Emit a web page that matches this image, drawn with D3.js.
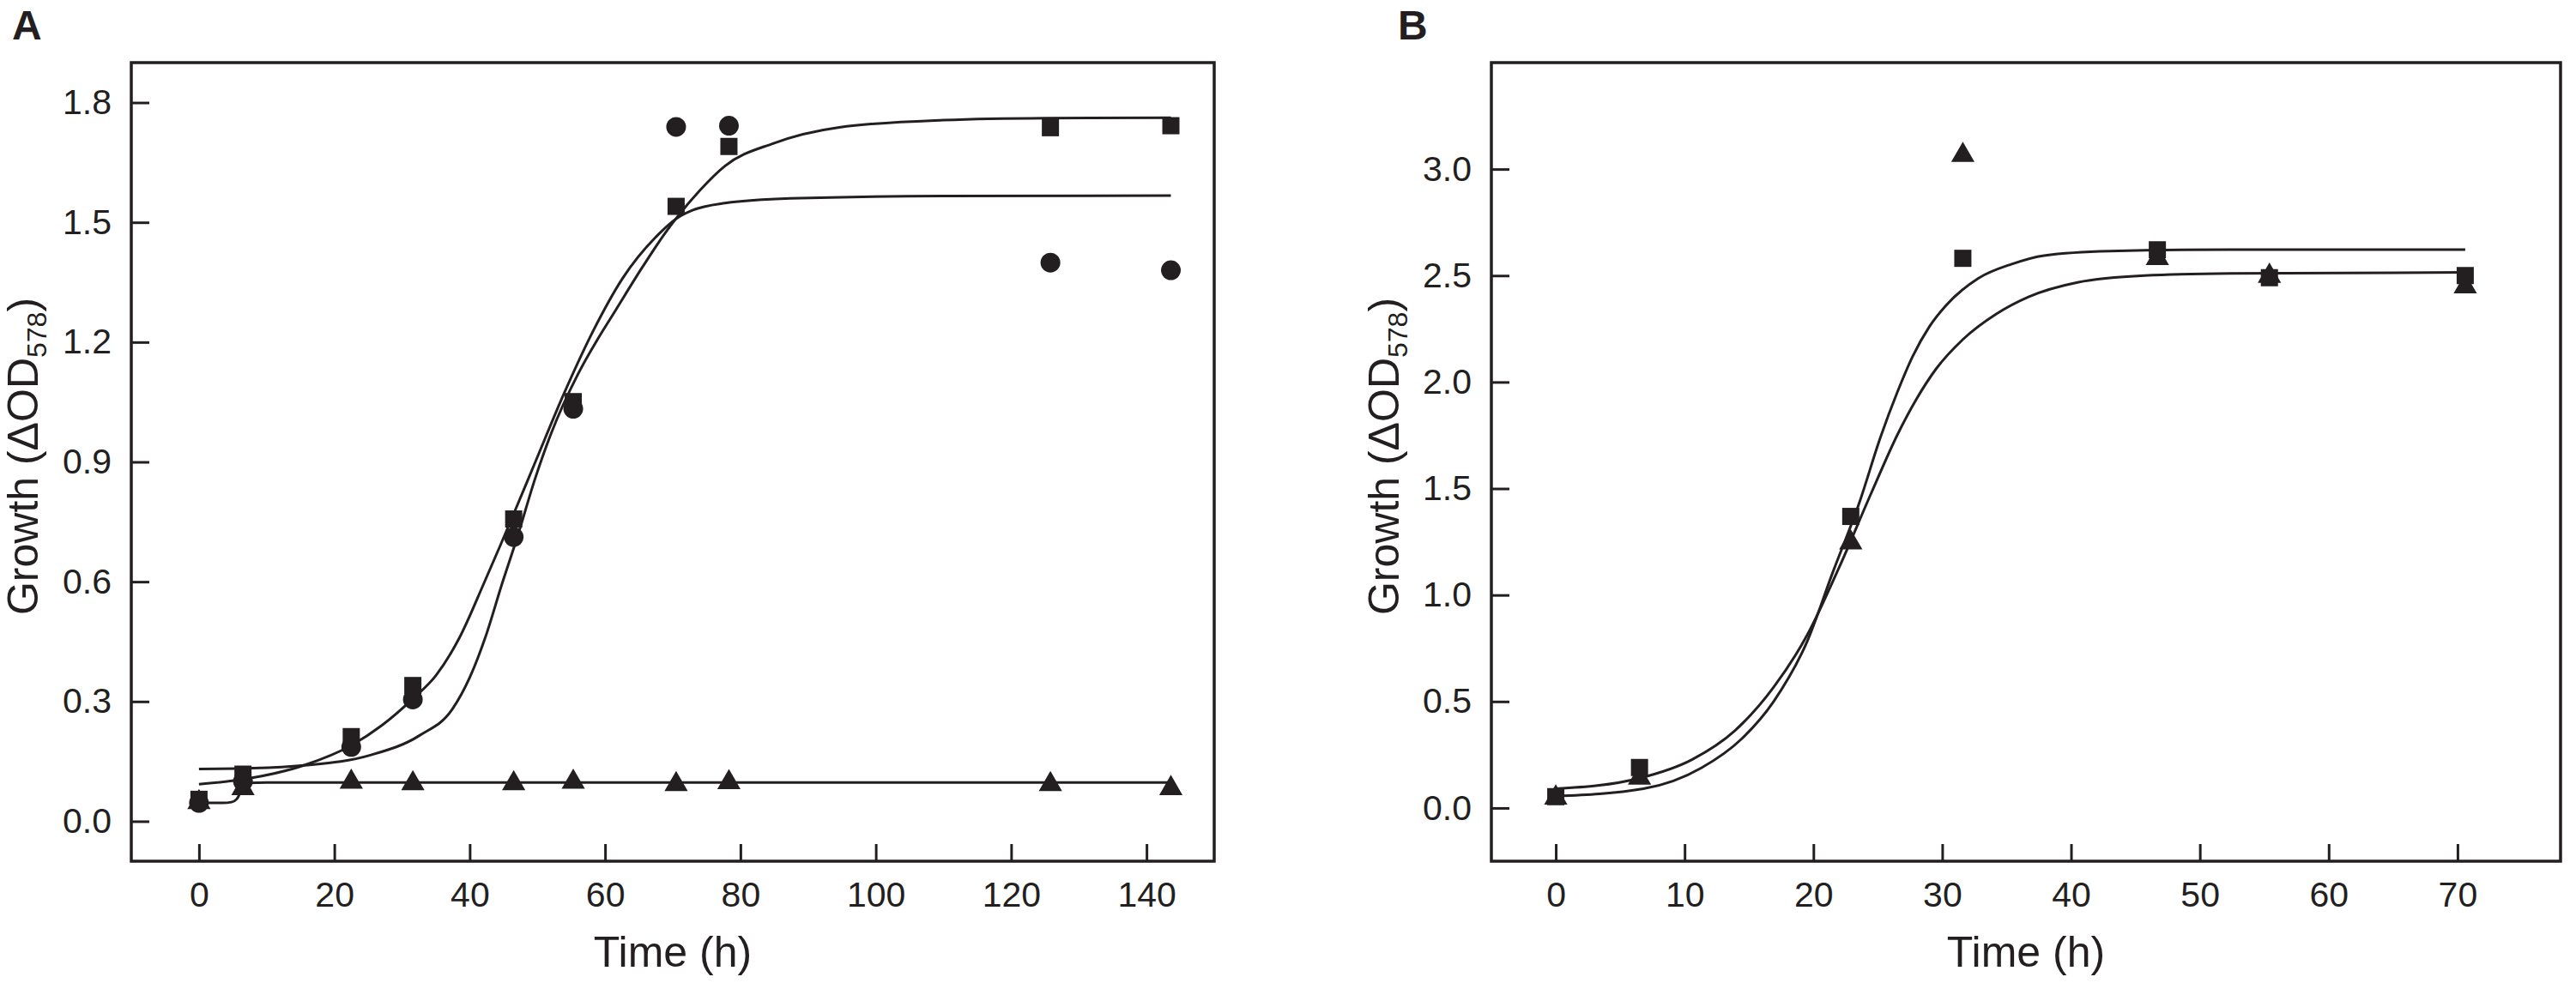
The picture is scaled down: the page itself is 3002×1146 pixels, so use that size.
<!DOCTYPE html>
<html>
<head>
<meta charset="utf-8">
<script src="https://cdn.jsdelivr.net/npm/d3@7"></script>
<style>
  body { margin: 0; background: #fff; }
  svg { display: block; }
  text { font-family: "Liberation Sans", Arial, sans-serif; fill: #231f20; }
</style>
</head>
<body>
<svg id="chart" width="3002" height="1146"></svg>
<script>
// ---- panel A data (time in h, growth as delta OD578) ----
var timeA = [0, 6.5, 22.5, 31.6, 46.5, 55.3, 70.5, 78.3, 125.8, 143.6];
var circleA = [0.046, 0.10, 0.186, 0.305, 0.712, 1.033, 1.739, 1.742, 1.399, 1.380];
var squareA = [0.055, 0.118, 0.212, 0.340, 0.757, 1.051, 1.540, 1.690, 1.737, 1.742];
var triangleA = [0.055, 0.090, 0.106, 0.102, 0.102, 0.106, 0.100, 0.105, 0.100, 0.090];

// fitted curves, [time, growth]
var fitA1 = [[0, 0.131], [8, 0.133], [15.5, 0.140], [25.2, 0.165], [32.6, 0.215], [37.4, 0.280],
  [40, 0.36], [42.3, 0.46], [44.8, 0.596], [47, 0.71], [49.7, 0.86], [52, 0.97], [56, 1.12],
  [59, 1.21], [61.2, 1.27], [65.6, 1.39], [69, 1.476], [70.6, 1.512], [74, 1.58], [77.7, 1.641],
  [84.9, 1.698], [94.6, 1.738], [110, 1.756], [125, 1.761], [143.6, 1.762]];
var fitA2 = [[0, 0.093], [6.5, 0.105], [15.5, 0.140], [22.5, 0.190], [27, 0.240], [31.6, 0.307],
  [35, 0.365], [38.5, 0.46], [42.1, 0.596], [44.5, 0.69], [46.5, 0.77], [49.7, 0.90], [53.9, 1.07],
  [58.3, 1.23], [62.6, 1.36], [67.9, 1.47], [70.6, 1.51], [72.9, 1.53], [77.7, 1.548], [87.4, 1.56],
  [110, 1.566], [143.6, 1.567]];
var fitA3 = [[0, 0.046], [3.5, 0.046], [4.8, 0.048], [5.6, 0.056], [6.1, 0.072], [6.5, 0.088],
  [7.3, 0.096], [10, 0.097], [143.6, 0.097]];

// ---- panel B data ----
var timeB = [0, 6.5, 22.9, 31.6, 46.7, 55.4, 70.6];
var squareB = [0.053, 0.190, 1.369, 2.581, 2.621, 2.490, 2.500];
var triangleB = [0.062, 0.155, 1.260, 3.079, 2.595, 2.512, 2.462];

var fitB1 = [[0, 0.055], [6.8, 0.09], [11.3, 0.188], [14.4, 0.323], [16.9, 0.499], [19.5, 0.78],
  [21.5, 1.106], [23.6, 1.44], [25.2, 1.74], [26.5, 1.95], [27.7, 2.12], [29, 2.26], [30.3, 2.36],
  [32.8, 2.487], [35.4, 2.554], [37.9, 2.594], [43, 2.615], [52.4, 2.622], [70.6, 2.622]];
var fitB2 = [[0, 0.09], [6.5, 0.14], [10.6, 0.228], [13.9, 0.363], [16.9, 0.566], [19.5, 0.81],
  [22, 1.13], [24.5, 1.48], [26.5, 1.75], [28, 1.92], [29.5, 2.06], [31.6, 2.2], [34.2, 2.32],
  [36.7, 2.4], [40.5, 2.468], [45.7, 2.5], [52.4, 2.51], [70.6, 2.515]];

// ---- axes ----
var xTicksA = [0, 20, 40, 60, 80, 100, 120, 140];
var yTicksA = [0, 0.3, 0.6, 0.9, 1.2, 1.5, 1.8];
var xTicksB = [0, 10, 20, 30, 40, 50, 60, 70];
var yTicksB = [0, 0.5, 1.0, 1.5, 2.0, 2.5, 3.0];

var ink = "#231f20";
var svg = d3.select("#chart");
svg.append("rect").attr("width", 3002).attr("height", 1146).attr("fill", "#fff");

var panels = [
  { label: "A", labelX: 14, left: 153, right: 1415, top: 73, bottom: 1004,
    xDomain: [-10, 150], yDomain: [-0.1, 1.9], xTicks: xTicksA, yTicks: yTicksA, titleX: 44,
    fits: [fitA1, fitA2, fitA3],
    series: [
      { t: timeA, v: triangleA, shape: "triangle" },
      { t: timeA, v: squareA, shape: "square" },
      { t: timeA, v: circleA, shape: "circle" }
    ] },
  { label: "B", labelX: 1629, left: 1738, right: 2984, top: 73, bottom: 1004,
    xDomain: [-5, 78], yDomain: [-0.25, 3.5], xTicks: xTicksB, yTicks: yTicksB, titleX: 1630,
    fits: [fitB1, fitB2],
    series: [
      { t: timeB, v: triangleB, shape: "triangle" },
      { t: timeB, v: squareB, shape: "square" }
    ] }
];

var symbols = {
  square: d3.symbol().type(d3.symbolSquare).size(400),
  circle: d3.symbol().type(d3.symbolCircle).size(415),
  triangle: d3.symbol().type(d3.symbolTriangle).size(320)
};

panels.forEach(function(p) {
  var x = d3.scaleLinear().domain(p.xDomain).range([p.left, p.right]);
  var y = d3.scaleLinear().domain(p.yDomain).range([p.bottom, p.top]);

  // panel letter
  svg.append("text")
    .attr("x", p.labelX).attr("y", 46)
    .attr("font-size", 48).attr("font-weight", "bold")
    .text(p.label);

  // bottom axis, ticks inside
  var gx = svg.append("g")
    .attr("transform", "translate(0," + p.bottom + ")")
    .call(d3.axisBottom(x).tickValues(p.xTicks).tickSizeInner(-20).tickSizeOuter(0).tickPadding(24));
  gx.select(".domain").remove();
  gx.selectAll("line").attr("stroke", ink).attr("stroke-width", 3);
  gx.selectAll("text").attr("font-size", 41).attr("font-family", null).attr("fill", ink);

  // left axis, ticks inside
  var gy = svg.append("g")
    .attr("transform", "translate(" + p.left + ",0)")
    .call(d3.axisLeft(y).tickValues(p.yTicks).tickFormat(d3.format(".1f"))
      .tickSizeInner(-21).tickSizeOuter(0).tickPadding(23));
  gy.select(".domain").remove();
  gy.selectAll("line").attr("stroke", ink).attr("stroke-width", 3);
  gy.selectAll("text").attr("font-size", 41).attr("font-family", null).attr("fill", ink);

  // frame
  svg.append("rect")
    .attr("x", p.left).attr("y", p.top)
    .attr("width", p.right - p.left).attr("height", p.bottom - p.top)
    .attr("fill", "none").attr("stroke", ink).attr("stroke-width", 3.5);

  // axis titles
  svg.append("text")
    .attr("x", (p.left + p.right) / 2).attr("y", 1127)
    .attr("text-anchor", "middle").attr("font-size", 50)
    .text("Time (h)");

  var yt = svg.append("text")
    .attr("transform", "translate(" + p.titleX + ",532) rotate(-90)")
    .attr("text-anchor", "middle").attr("font-size", 50);
  yt.append("tspan").text("Growth (\u0394OD");
  yt.append("tspan").attr("font-size", 32).attr("dy", 10).text("578");
  yt.append("tspan").attr("dy", -10).text(")");

  // fitted curves
  var line = d3.line()
    .x(function(d) { return x(d[0]); })
    .y(function(d) { return y(d[1]); })
    .curve(d3.curveMonotoneX);
  p.fits.forEach(function(f) {
    svg.append("path")
      .datum(f)
      .attr("fill", "none")
      .attr("stroke", ink)
      .attr("stroke-width", 3)
      .attr("d", line);
  });

  // data points
  p.series.forEach(function(s) {
    var shift = s.shape === "triangle" ? 3.5 : 0;
    svg.append("g")
      .selectAll("path")
      .data(s.t)
      .enter()
      .append("path")
      .attr("transform", function(d, i) {
        return "translate(" + x(d) + "," + (y(s.v[i]) + shift) + ")";
      })
      .attr("d", symbols[s.shape]())
      .attr("fill", ink);
  });
});
</script>
</body>
</html>
